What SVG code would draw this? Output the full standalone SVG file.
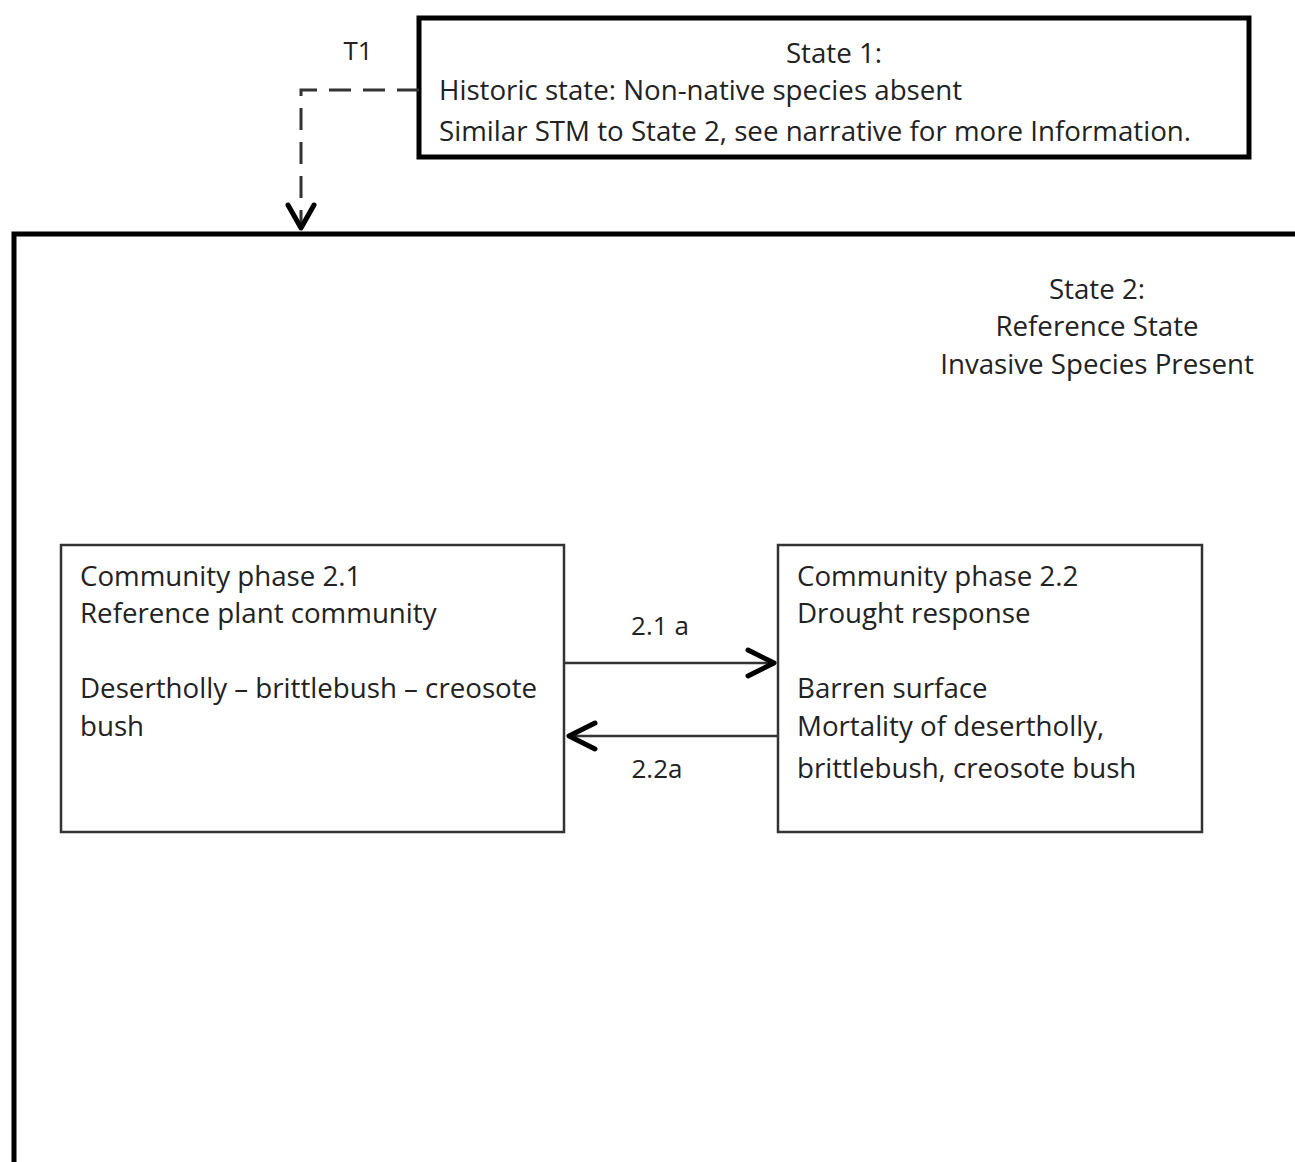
<svg xmlns="http://www.w3.org/2000/svg" width="1295" height="1162" viewBox="0 0 1295 1162">
<defs>
<style>
text{font-family:"Open Sans","Liberation Sans",Arial,sans-serif;fill:#222;font-size:27.7px}
.lbl{font-size:26px}
.c{text-anchor:middle}
.state{fill:none;stroke:#000;stroke-width:5}
.phase{fill:none;stroke:#333;stroke-width:2.5}
.conn{fill:none;stroke:#333;stroke-width:2.5}
.head{fill:none;stroke:#000;stroke-width:5;stroke-linecap:round;stroke-linejoin:round}
</style>
</defs>
<rect width="1295" height="1162" fill="#fff"/>
<g id="state2">
<rect class="state" x="14" y="234" width="1300" height="940"/>
<text class="c" x="1097" y="299">State 2:</text>
<text class="c" x="1097" y="336">Reference State</text>
<text class="c" x="1097" y="374">Invasive Species Present</text>
</g>
<g id="state1">
<rect class="state" x="419" y="18" width="830" height="139" fill="#fff"/>
<text class="c" x="834" y="63" font-size="31">State 1:</text>
<text x="439" y="100">Historic state: Non-native species absent</text>
<text x="439" y="141">Similar STM to State 2, see narrative for more Information.</text>
</g>
<g id="phase21">
<rect class="phase" x="61" y="545" width="503" height="287"/>
<text x="80" y="586">Community phase 2.1</text>
<text x="80" y="623">Reference plant community</text>
<text x="80" y="698">Desertholly – brittlebush – creosote</text>
<text x="80" y="736">bush</text>
</g>
<g id="phase22">
<rect class="phase" x="778" y="545" width="424" height="287"/>
<text x="797" y="586">Community phase 2.2</text>
<text x="797" y="623">Drought response</text>
<text x="797" y="698">Barren surface</text>
<text x="797" y="736">Mortality of desertholly,</text>
<text x="797" y="778">brittlebush, creosote bush</text>
</g>
<g id="connectors">
<path d="M419 90 H301 V226" fill="none" stroke="#333" stroke-width="3" stroke-dasharray="22 12"/>
<path class="head" d="M288 205 L301 228 L314 205"/>
<text class="lbl c" x="358" y="60">T1</text>
<path class="conn" d="M564 663 H774"/>
<path class="head" d="M748 650 L774 663 L748 676"/>
<text class="lbl c" x="660" y="635">2.1 a</text>
<path class="conn" d="M778 736 H568"/>
<path class="head" d="M595 723 L569 736 L595 749"/>
<text class="lbl c" x="657" y="778">2.2a</text>
</g>
</svg>
